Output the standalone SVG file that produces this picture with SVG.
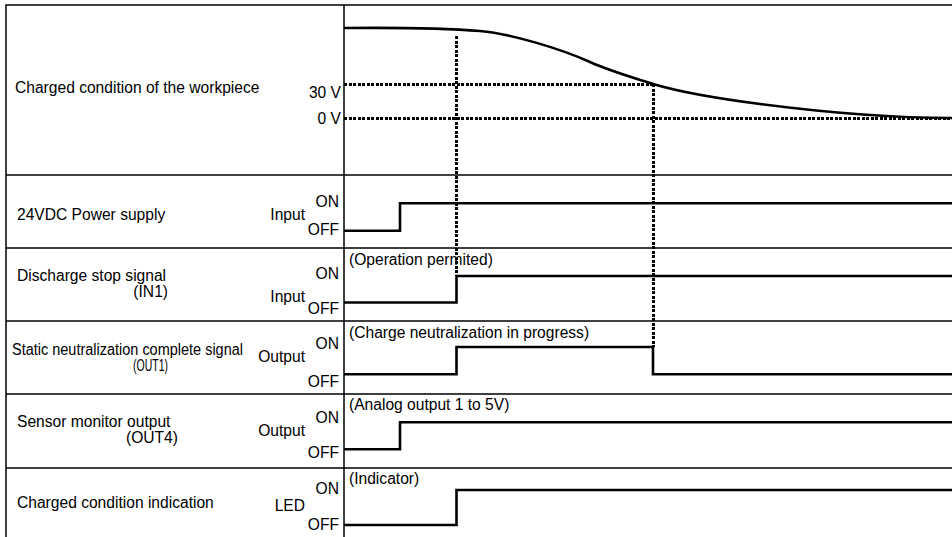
<svg xmlns="http://www.w3.org/2000/svg" width="952" height="537" viewBox="0 0 952 537">
<style>
text{font-family:"Liberation Sans",Arial,sans-serif;font-size:15.6px;fill:#000}
.e{text-anchor:end}
.grid{stroke:#000;stroke-width:1.5;fill:none}
.sig{stroke:#000;stroke-width:2.6;fill:none;stroke-linejoin:miter}
.dot{stroke:#000;stroke-width:3;fill:none;stroke-dasharray:3 1.5;shape-rendering:crispEdges}
</style>
<rect width="952" height="537" fill="#fff"/>
<g id="frame" class="grid">
<path d="M6,537 V5 H952"/>
<path d="M344,5 V537"/>
<path d="M6,175 H952 M6,248 H952 M6,321 H952 M6,394 H952 M6,468 H952"/>
</g>
<g id="row-workpiece">
<text x="15" y="93">Charged condition of the workpiece</text>
<text class="e" x="341" y="98">30 V</text>
<text class="e" x="341" y="124">0 V</text>
<path class="sig" d="M344,28 C400,27.5 450,28.5 480,31 C510,33.5 560,48.5 590,62 C610,71 633,77.6 653,84 C685,93.6 720,98.8 760,104 C820,111.8 880,118 952,118"/>
</g>
<g id="row-power">
<text x="17" y="220">24VDC Power supply</text>
<text class="e" x="305" y="220">Input</text>
<text class="e" x="339" y="207">ON</text>
<text class="e" x="339" y="234.5">OFF</text>
<path class="sig" d="M344,230.7 H400 V203.3 H952"/>
</g>
<g id="row-discharge">
<text x="349" y="265">(Operation permited)</text>
<text x="17" y="280.5">Discharge stop signal</text>
<text class="e" x="168" y="296.5">(IN1)</text>
<text class="e" x="305" y="302">Input</text>
<text class="e" x="339" y="279">ON</text>
<text class="e" x="339" y="314">OFF</text>
<path class="sig" d="M344,302.5 H456.5 V276 H952"/>
</g>
<g id="row-out1">
<text x="349" y="338">(Charge neutralization in progress)</text>
<text x="12" y="355" textLength="231" lengthAdjust="spacingAndGlyphs">Static neutralization complete signal</text>
<text class="e" x="168" y="371" font-size="16.5" textLength="35" lengthAdjust="spacingAndGlyphs">(OUT1)</text>
<text class="e" x="305" y="362">Output</text>
<text class="e" x="339" y="349">ON</text>
<text class="e" x="339" y="387">OFF</text>
<path class="sig" d="M344,374.3 H456.5 V347 H653 V374.3 H952"/>
</g>
<g id="row-out4">
<text x="349" y="409.5">(Analog output 1 to 5V)</text>
<text x="17" y="427">Sensor monitor output</text>
<text class="e" x="178" y="443">(OUT4)</text>
<text class="e" x="305" y="436">Output</text>
<text class="e" x="339" y="423">ON</text>
<text class="e" x="339" y="458">OFF</text>
<path class="sig" d="M344,449.3 H400 V422.3 H952"/>
</g>
<g id="row-led">
<text x="349" y="484">(Indicator)</text>
<text x="17" y="508">Charged condition indication</text>
<text class="e" x="305" y="511">LED</text>
<text class="e" x="339" y="494">ON</text>
<text class="e" x="339" y="530">OFF</text>
<path class="sig" d="M344,525 H456.5 V490 H952"/>
</g>
<g id="connectors">
<path class="dot" d="M344,84 H653"/>
<path class="dot" d="M344,118 H952"/>
<path class="dot" d="M456.5,36 V276"/>
<path class="dot" d="M653,84 V347"/>
</g>
</svg>
